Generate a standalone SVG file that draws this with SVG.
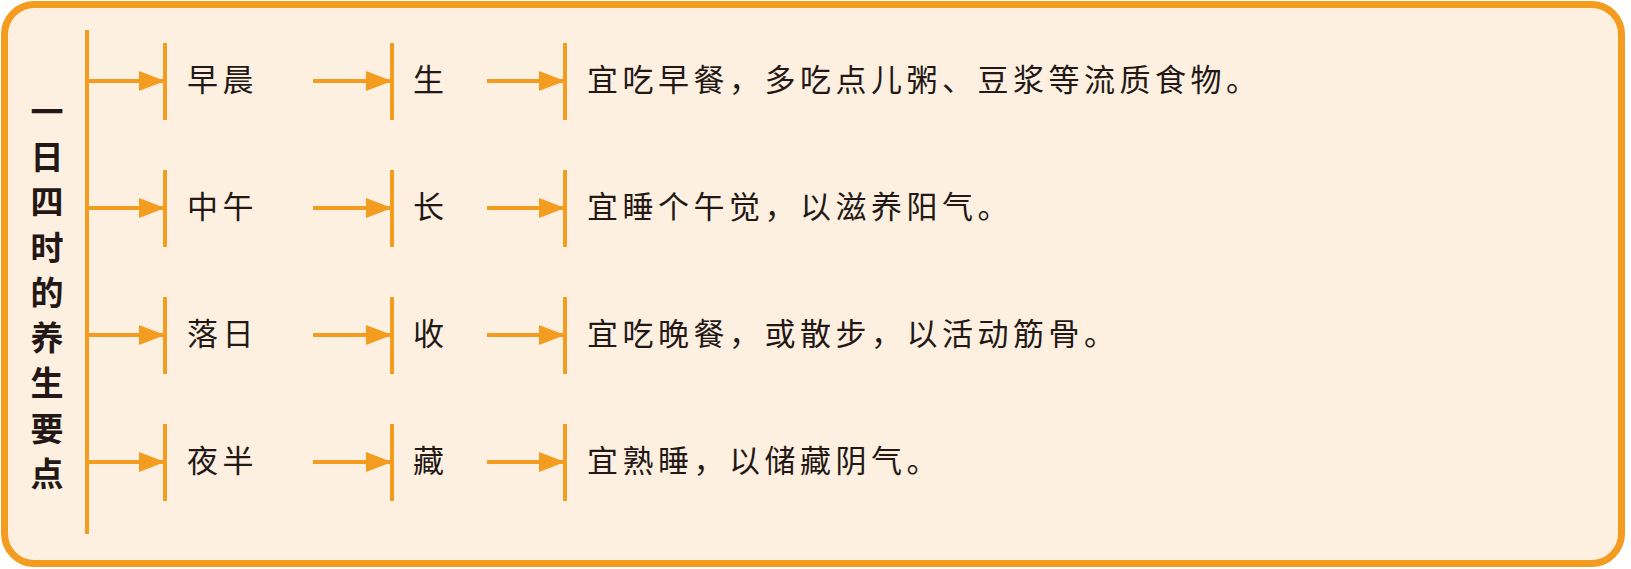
<svg xmlns="http://www.w3.org/2000/svg" width="1631" height="569" viewBox="0 0 1631 569">
<style>
.ln{stroke:#f39c1f;stroke-width:4;fill:none}
.ar{stroke:#f39c1f;stroke-width:4;fill:none;marker-end:url(#ah)}
.t{font-family:"Noto Sans CJK SC","Noto Sans CJK TC",sans-serif;font-size:31px;letter-spacing:4.5px;fill:#231815}
.title{font-family:"Noto Sans CJK SC","Noto Sans CJK TC",sans-serif;font-size:33px;font-weight:700;fill:#231815;text-anchor:middle}
</style>
<defs>
<marker id="ah" markerUnits="userSpaceOnUse" markerWidth="27" markerHeight="22" refX="26" refY="11" orient="auto" viewBox="0 0 27 22">
<path d="M0,1 L26,11 L0,21 z" fill="#f39c1f"/>
</marker>
</defs>
<rect x="0" y="0" width="1631" height="569" fill="#ffffff"/>
<rect id="frame" x="4.5" y="4.5" width="1617" height="559" rx="30" ry="30" fill="#fdf0e1" stroke="#f39c1f" stroke-width="7"/>

<g id="title">
<text class="title" x="47"><tspan x="47" y="124">一</tspan><tspan x="47" y="169">日</tspan><tspan x="47" y="214">四</tspan><tspan x="47" y="260">时</tspan><tspan x="47" y="305">的</tspan><tspan x="47" y="350">养</tspan><tspan x="47" y="395">生</tspan><tspan x="47" y="441">要</tspan><tspan x="47" y="486">点</tspan></text>
</g>

<g id="connectors">
<line class="ln" x1="87" y1="30" x2="87" y2="534"/>
<line class="ar" x1="87" y1="81" x2="165" y2="81"/>
<line class="ar" x1="313" y1="81" x2="392" y2="81"/>
<line class="ar" x1="487" y1="81" x2="565" y2="81"/>
<line class="ar" x1="87" y1="208" x2="165" y2="208"/>
<line class="ar" x1="313" y1="208" x2="392" y2="208"/>
<line class="ar" x1="487" y1="208" x2="565" y2="208"/>
<line class="ar" x1="87" y1="335" x2="165" y2="335"/>
<line class="ar" x1="313" y1="335" x2="392" y2="335"/>
<line class="ar" x1="487" y1="335" x2="565" y2="335"/>
<line class="ar" x1="87" y1="462" x2="165" y2="462"/>
<line class="ar" x1="313" y1="462" x2="392" y2="462"/>
<line class="ar" x1="487" y1="462" x2="565" y2="462"/>
</g>

<g id="node-zaochen"><line class="ln" x1="165" y1="43" x2="165" y2="120"/><text class="t" x="187" y="91">早晨</text></g>
<g id="node-sheng"><line class="ln" x1="392" y1="43" x2="392" y2="120"/><text class="t" x="413" y="91">生</text></g>
<g id="node-desc1"><line class="ln" x1="565" y1="43" x2="565" y2="120"/><text class="t" x="587" y="91">宜吃早餐，多吃点儿粥、豆浆等流质食物。</text></g>

<g id="node-zhongwu"><line class="ln" x1="165" y1="170" x2="165" y2="247"/><text class="t" x="187" y="218">中午</text></g>
<g id="node-chang"><line class="ln" x1="392" y1="170" x2="392" y2="247"/><text class="t" x="413" y="218">长</text></g>
<g id="node-desc2"><line class="ln" x1="565" y1="170" x2="565" y2="247"/><text class="t" x="587" y="218">宜睡个午觉，以滋养阳气。</text></g>

<g id="node-luori"><line class="ln" x1="165" y1="297" x2="165" y2="374"/><text class="t" x="187" y="345">落日</text></g>
<g id="node-shou"><line class="ln" x1="392" y1="297" x2="392" y2="374"/><text class="t" x="413" y="345">收</text></g>
<g id="node-desc3"><line class="ln" x1="565" y1="297" x2="565" y2="374"/><text class="t" x="587" y="345">宜吃晚餐，或散步，以活动筋骨。</text></g>

<g id="node-yeban"><line class="ln" x1="165" y1="424" x2="165" y2="501"/><text class="t" x="187" y="472">夜半</text></g>
<g id="node-cang"><line class="ln" x1="392" y1="424" x2="392" y2="501"/><text class="t" x="413" y="472">藏</text></g>
<g id="node-desc4"><line class="ln" x1="565" y1="424" x2="565" y2="501"/><text class="t" x="587" y="472">宜熟睡，以储藏阴气。</text></g>
</svg>
